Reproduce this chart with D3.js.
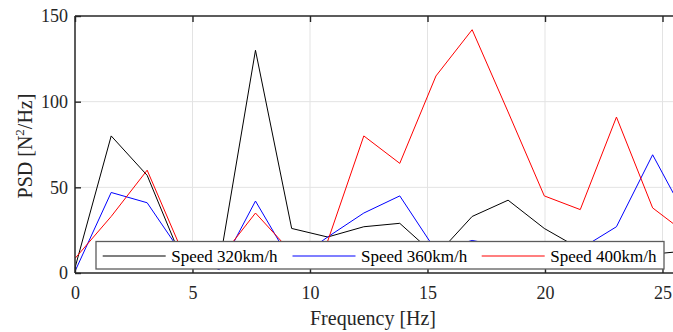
<!DOCTYPE html>
<html>
<head>
<meta charset="utf-8">
<script src="https://cdn.jsdelivr.net/npm/d3@7"></script>
<style>
  html, body { margin: 0; padding: 0; background: #fff; }
  svg { display: block; }
  text { font-family: "Liberation Serif", "Times New Roman", serif; fill: #262626; }
</style>
</head>
<body>
<svg id="chart" width="673" height="332"></svg>
<script>
// PSD of the vertical force at three running speeds
const frequencies = [0, 1.54, 3.07, 4.61, 6.14, 7.68, 9.22, 10.75, 12.29, 13.82, 15.36, 16.9, 18.43, 19.97, 21.5, 23.04, 24.58, 26.11];
const psd320 = [3, 80, 57, 6, 5, 130, 26, 21, 27, 29, 10, 33, 42.5, 26, 14, 10, 11, 13];
const psd360 = [1, 47, 41, 10, 2, 42, 6, 21, 35, 45, 13, 19, 15, 10, 14, 27, 69, 30];
const psd400 = [8.5, 33, 60, 11, 8, 35, 12, 18.5, 80, 64, 115, 142, 94, 45, 37, 91, 38, 22];
const seriesNames = ["Speed 320km/h", "Speed 360km/h", "Speed 400km/h"];
const seriesColors = ["#000000", "#0000ff", "#ff0000"];
const xTicks = [0, 5, 10, 15, 20, 25];
const yTicks = [0, 50, 100, 150];

const svg = d3.select("#chart");
const plotLeft = 75, plotTop = 16, plotBottom = 273, plotRight = 720;

const x = d3.scaleLinear().domain([0, 25]).range([plotLeft, 662.5]);
const y = d3.scaleLinear().domain([0, 150]).range([plotBottom, plotTop]);

const series = [psd320, psd360, psd400].map((vals, i) => ({
  name: seriesNames[i],
  color: seriesColors[i],
  points: vals.map((v, j) => [frequencies[j], v])
}));

svg.append("defs").append("clipPath").attr("id", "plotClip")
  .append("rect").attr("x", plotLeft).attr("y", plotTop)
  .attr("width", plotRight - plotLeft).attr("height", plotBottom - plotTop);

// grid
const grid = svg.append("g");
grid.selectAll("line.gx").data(xTicks.filter(d => d > 0)).join("line")
  .attr("x1", d => x(d)).attr("x2", d => x(d))
  .attr("y1", plotTop).attr("y2", plotBottom)
  .attr("stroke", "#e3e3e3").attr("stroke-width", 1);
grid.selectAll("line.gy").data(yTicks.filter(d => d > 0 && d < 150)).join("line")
  .attr("x1", plotLeft).attr("x2", plotRight)
  .attr("y1", d => y(d)).attr("y2", d => y(d))
  .attr("stroke", "#e3e3e3").attr("stroke-width", 1);

// data lines
const lineGen = d3.line().x(d => x(d[0])).y(d => y(d[1]));
svg.append("g").attr("clip-path", "url(#plotClip)")
  .selectAll("path").data(series).join("path")
  .attr("d", d => lineGen(d.points))
  .attr("fill", "none")
  .style("stroke", d => d.color)
  .attr("stroke-width", 1);

// axes
const axisColor = "#262626";
const xAxis = svg.append("g").attr("transform", `translate(0,${plotBottom})`)
  .call(d3.axisBottom(x).tickValues(xTicks).tickSize(-6).tickPadding(13).tickFormat(d3.format("d")));
const xTop = svg.append("g").attr("transform", `translate(0,${plotTop})`)
  .call(d3.axisTop(x).tickValues(xTicks).tickSize(-6).tickFormat(""));
const yAxis = svg.append("g").attr("transform", `translate(${plotLeft},0)`)
  .call(d3.axisLeft(y).tickValues(yTicks).tickSize(-6).tickPadding(7).tickFormat(d3.format("d")));

[xAxis, xTop, yAxis].forEach(g => {
  g.select(".domain").remove();
  g.selectAll(".tick line").attr("stroke", axisColor).attr("stroke-width", 1.4);
  g.selectAll(".tick text").attr("font-size", 18).attr("fill", axisColor)
    .style("font-family", "'Liberation Serif', serif");
});
xAxis.selectAll(".tick text").attr("dy", "0.71em");
yAxis.selectAll(".tick text").attr("dy", "0.33em");

// frame (left, top, bottom)
svg.append("line").attr("x1", plotLeft).attr("x2", plotLeft).attr("y1", plotTop).attr("y2", plotBottom)
  .attr("stroke", axisColor).attr("stroke-width", 1.5);
svg.append("line").attr("x1", plotLeft).attr("x2", plotRight).attr("y1", plotTop).attr("y2", plotTop)
  .attr("stroke", axisColor).attr("stroke-width", 1.5);
svg.append("line").attr("x1", plotLeft).attr("x2", plotRight).attr("y1", plotBottom).attr("y2", plotBottom)
  .attr("stroke", axisColor).attr("stroke-width", 1.5);

// axis titles
svg.append("text").attr("x", 373).attr("y", 325).attr("text-anchor", "middle")
  .attr("font-size", 20).text("Frequency [Hz]");
const yl = svg.append("text").attr("transform", "translate(32,146) rotate(-90)")
  .attr("text-anchor", "middle").attr("font-size", 20);
yl.append("tspan").text("PSD [N");
yl.append("tspan").attr("font-size", 13).attr("dy", -8).text("2");
yl.append("tspan").attr("dy", 8).text("/Hz]");

// legend
const legend = svg.append("g");
legend.append("rect").attr("x", 96).attr("y", 241.5).attr("width", 568).attr("height", 27.5)
  .attr("fill", "#fff").attr("stroke", "#5c5c5c").attr("stroke-width", 1.3);
const entryX = [102.7, 292.5, 481.7];
series.forEach((s, i) => {
  const g = legend.append("g").attr("transform", `translate(${entryX[i]},0)`);
  g.append("path")
    .attr("d", `M0,256H63`)
    .attr("fill", "none")
    .style("stroke", s.color)
    .style("stroke-width", "1.2px");
  g.append("text").attr("x", 68.5).attr("y", 261.5).attr("font-size", 17)
    .style("fill", "#000").text(s.name);
});
</script>
</body>
</html>
